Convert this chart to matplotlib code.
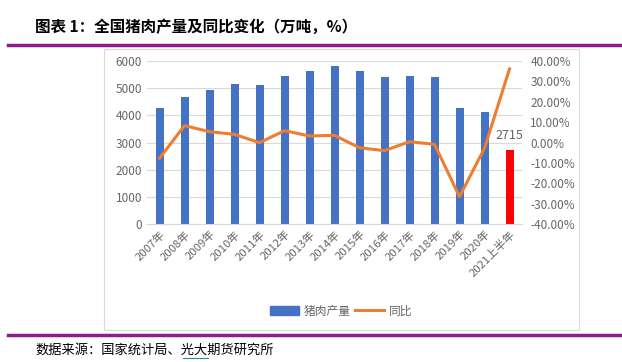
import matplotlib.pyplot as plt
from matplotlib.patches import Rectangle
from matplotlib.lines import Line2D
from matplotlib.ticker import FuncFormatter

plt.rcParams['font.family'] = ['Noto Sans CJK SC', 'DejaVu Sans']

years = ['2007年', '2008年', '2009年', '2010年', '2011年', '2012年', '2013年', '2014年',
         '2015年', '2016年', '2017年', '2018年', '2019年', '2020年', '2021上半年']
output = [4288, 4682, 4932, 5138, 5131, 5444, 5619, 5821, 5645, 5426, 5452, 5404, 4255, 4113, 2715]
yoy = [-7.8, 8.3, 5.3, 4.0, -0.1, 5.8, 3.2, 3.5, -2.6, -4.0, 0.4, -0.9, -26.6, -2.8, 36.1]

blue = '#4472C4'
orange = '#ED7D31'
gray = '#666666'
purple = '#8E1A8E'

fig = plt.figure(figsize=(6.22, 3.62), dpi=100)
W, H = 622, 362

# title and decorative lines
fig.text(35 / W, 1 - 27 / H, '图表 1：全国猪肉产量及同比变化（万吨，%）', fontsize=11.2,
         fontweight='bold', va='center', ha='left', color='black')
fig.add_artist(Line2D([8 / W, 1], [1 - 45 / H] * 2, color=purple, lw=2.5))
fig.add_artist(Line2D([8 / W, 1], [1 - 335 / H] * 2, color=purple, lw=2.5))
fig.add_artist(Rectangle((104 / W, 1 - 330 / H), (579 - 104) / W, (330 - 49) / H,
                         fill=False, edgecolor='#D9D9D9', lw=0.8, transform=fig.transFigure))
fig.text(35 / W, 1 - 350 / H, '数据来源：国家统计局、光大期货研究所', fontsize=9.5,
         va='center', ha='left', color='black')
fig.add_artist(Line2D([183 / W, 208 / W], [1 - 358 / H] * 2, color='#2E8B9A', lw=0.8))

ax = fig.add_axes([147 / W, 1 - 224 / H, 375 / W, 163 / H])
x = list(range(len(years)))
colors = [blue] * (len(years) - 1) + ['#FF0000']
ax.bar(x, output, width=0.32, color=colors, zorder=2)
ax.set_ylim(0, 6000)
ax.set_xlim(-0.5, len(years) - 0.5)
ax.set_yticks(range(0, 6001, 1000))
ax.grid(axis='y', color='#D9D9D9', lw=0.8, zorder=0)
for s in ['top', 'right', 'left']:
    ax.spines[s].set_visible(False)
ax.spines['bottom'].set_color('#D9D9D9')
ax.tick_params(axis='both', length=0, colors=gray, labelsize=8.5)
ax.set_xticks(x)
ax.set_xticklabels(years, rotation=45, ha='right', rotation_mode='anchor', fontsize=8.2)
ax.text(x[-1], output[-1] + 300, str(output[-1]), ha='center', va='bottom',
        fontsize=9, color=gray)

ax2 = ax.twinx()
ax2.plot(x, yoy, color=orange, lw=2.2, zorder=3)
ax2.set_ylim(-40, 40)
ax2.set_yticks(range(-40, 41, 10))
ax2.yaxis.set_major_formatter(FuncFormatter(lambda v, p: f'{v:.2f}%'))
for s in ['top', 'right', 'left', 'bottom']:
    ax2.spines[s].set_visible(False)
ax2.tick_params(axis='y', length=0, colors=gray, labelsize=8.5, pad=6)

handles = [Rectangle((0, 0), 1, 1, color=blue), Line2D([0], [0], color=orange, lw=2.2)]
fig.legend(handles, ['猪肉产量', '同比'], loc='center', bbox_to_anchor=(341 / W, 1 - 311 / H),
           ncol=2, frameon=False, fontsize=8.5, handlelength=2.5, columnspacing=0.3,
           handletextpad=0.4, labelcolor=gray)

fig.savefig('out.png', dpi=100)
